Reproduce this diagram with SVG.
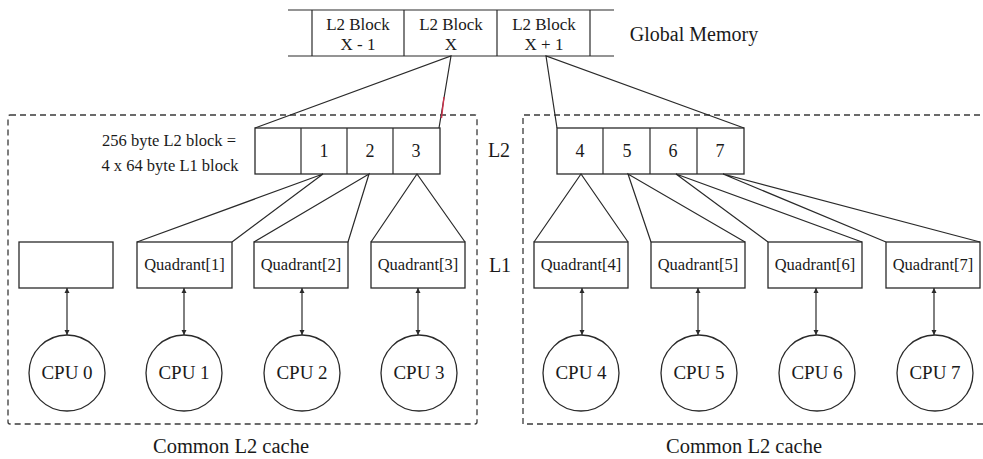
<svg xmlns="http://www.w3.org/2000/svg" width="983" height="459" viewBox="0 0 983 459">
<style>
text{font-family:"Liberation Serif","Times New Roman",serif;fill:#1a1a1a;text-anchor:middle}
.box{fill:none;stroke:#2a2a2a;stroke-width:1.3}
.ln{fill:none;stroke:#2a2a2a;stroke-width:1.2}
.dash{fill:none;stroke:#3a3a3a;stroke-width:1.3;stroke-dasharray:6 4}
.arr{fill:none;stroke:#2a2a2a;stroke-width:1.2;marker-start:url(#ah);marker-end:url(#ah)}
.cpu{fill:#fff;stroke:#2a2a2a;stroke-width:1.3}
.big{font-size:18px}
.blk{font-size:17px}
.q{font-size:16.5px}
.c{font-size:19px}
</style>
<defs>
<marker id="ah" viewBox="0 0 10 10" refX="10" refY="5" markerWidth="5" markerHeight="8" orient="auto-start-reverse" markerUnits="userSpaceOnUse">
<path d="M0,0 L10,5 L0,10 z" fill="#2a2a2a"/>
</marker>
</defs>

<g id="containers">
<rect class="dash" x="8" y="115" width="469" height="309" rx="2"/>
<path class="dash" d="M990,115 H523 V424 H990"/>
</g>

<g id="global-memory">
<line class="ln" x1="288" y1="10" x2="614" y2="10"/>
<line class="ln" x1="288" y1="56" x2="614" y2="56"/>
<line class="ln" x1="312" y1="10" x2="312" y2="56"/>
<line class="ln" x1="404" y1="10" x2="404" y2="56"/>
<line class="ln" x1="497" y1="10" x2="497" y2="56"/>
<line class="ln" x1="590" y1="10" x2="590" y2="56"/>
<text class="blk" x="358" y="30">L2 Block</text>
<text class="blk" x="358" y="50">X - 1</text>
<text class="blk" x="451" y="30">L2 Block</text>
<text class="blk" x="451" y="50">X</text>
<text class="blk" x="544" y="30">L2 Block</text>
<text class="blk" x="544" y="50">X + 1</text>
<text x="694" y="41" style="font-size:20px">Global Memory</text>
</g>

<g id="labels">
<text x="499" y="157" style="font-size:20px">L2</text>
<text x="500" y="272" style="font-size:20px">L1</text>
<text x="169" y="146" style="font-size:16.5px">256 byte L2 block =</text>
<text x="170" y="171" style="font-size:16.5px">4 x 64 byte L1 block</text>
<text x="231" y="453" style="font-size:20.5px">Common L2 cache</text>
<text x="744" y="453" style="font-size:20.5px">Common L2 cache</text>
</g>

<g id="l2-left">
<rect class="box" x="255" y="128" width="185" height="46"/>
<line class="ln" x1="301" y1="128" x2="301" y2="174"/>
<line class="ln" x1="347" y1="128" x2="347" y2="174"/>
<line class="ln" x1="393" y1="128" x2="393" y2="174"/>
<text class="big" x="324" y="157">1</text>
<text class="big" x="370" y="157">2</text>
<text class="big" x="416" y="157">3</text>
</g>

<g id="l2-right">
<rect class="box" x="557" y="128" width="187" height="46"/>
<line class="ln" x1="603" y1="128" x2="603" y2="174"/>
<line class="ln" x1="650" y1="128" x2="650" y2="174"/>
<line class="ln" x1="697" y1="128" x2="697" y2="174"/>
<text class="big" x="580" y="157">4</text>
<text class="big" x="627" y="157">5</text>
<text class="big" x="673" y="157">6</text>
<text class="big" x="720" y="157">7</text>
</g>

<g id="l1-0"><rect class="box" x="19" y="242" width="94" height="46"/></g>
<g id="l1-1"><rect class="box" x="137" y="242" width="95" height="46"/><text class="q" x="184.5" y="270">Quadrant[1]</text></g>
<g id="l1-2"><rect class="box" x="254" y="242" width="94" height="46"/><text class="q" x="301" y="270">Quadrant[2]</text></g>
<g id="l1-3"><rect class="box" x="371" y="242" width="94" height="46"/><text class="q" x="418" y="270">Quadrant[3]</text></g>
<g id="l1-4"><rect class="box" x="534" y="242" width="94" height="46"/><text class="q" x="581" y="270">Quadrant[4]</text></g>
<g id="l1-5"><rect class="box" x="651" y="242" width="94" height="46"/><text class="q" x="698" y="270">Quadrant[5]</text></g>
<g id="l1-6"><rect class="box" x="768" y="242" width="94" height="46"/><text class="q" x="815" y="270">Quadrant[6]</text></g>
<g id="l1-7"><rect class="box" x="886" y="242" width="94" height="46"/><text class="q" x="933" y="270">Quadrant[7]</text></g>

<g id="cpu-0"><circle class="cpu" cx="67" cy="373" r="38"/><text class="c" x="67" y="379">CPU 0</text></g>
<g id="cpu-1"><circle class="cpu" cx="184" cy="373" r="38"/><text class="c" x="184" y="379">CPU 1</text></g>
<g id="cpu-2"><circle class="cpu" cx="302" cy="373" r="38"/><text class="c" x="302" y="379">CPU 2</text></g>
<g id="cpu-3"><circle class="cpu" cx="419" cy="373" r="38"/><text class="c" x="419" y="379">CPU 3</text></g>
<g id="cpu-4"><circle class="cpu" cx="581" cy="373" r="38"/><text class="c" x="581" y="379">CPU 4</text></g>
<g id="cpu-5"><circle class="cpu" cx="699" cy="373" r="38"/><text class="c" x="699" y="379">CPU 5</text></g>
<g id="cpu-6"><circle class="cpu" cx="817" cy="373" r="38"/><text class="c" x="817" y="379">CPU 6</text></g>
<g id="cpu-7"><circle class="cpu" cx="935" cy="373" r="38"/><text class="c" x="935" y="379">CPU 7</text></g>

<g id="connectors">
<path class="ln" d="M255,128 L451,56 L439,128"/>
<line x1="444" y1="97" x2="441.5" y2="118" stroke="#d0304a" stroke-width="1.4"/>
<path class="ln" d="M557,128 L546,56 L744,128"/>
<path class="ln" d="M137,242 L323,174 L232,242"/>
<path class="ln" d="M254,242 L369,174 L348,242"/>
<path class="ln" d="M371,242 L417,174 L465,242"/>
<path class="ln" d="M534,242 L581,174 L628,242"/>
<path class="ln" d="M651,242 L628,174 L745,242"/>
<path class="ln" d="M768,242 L676,174 L862,242"/>
<path class="ln" d="M886,242 L723,174 L980,242"/>
<line class="arr" x1="67" y1="288" x2="67" y2="335"/>
<line class="arr" x1="184" y1="288" x2="184" y2="335"/>
<line class="arr" x1="302" y1="288" x2="302" y2="335"/>
<line class="arr" x1="418" y1="288" x2="418" y2="335"/>
<line class="arr" x1="582" y1="288" x2="582" y2="335"/>
<line class="arr" x1="698" y1="288" x2="698" y2="335"/>
<line class="arr" x1="816" y1="288" x2="816" y2="335"/>
<line class="arr" x1="934" y1="288" x2="934" y2="335"/>
</g>
</svg>
